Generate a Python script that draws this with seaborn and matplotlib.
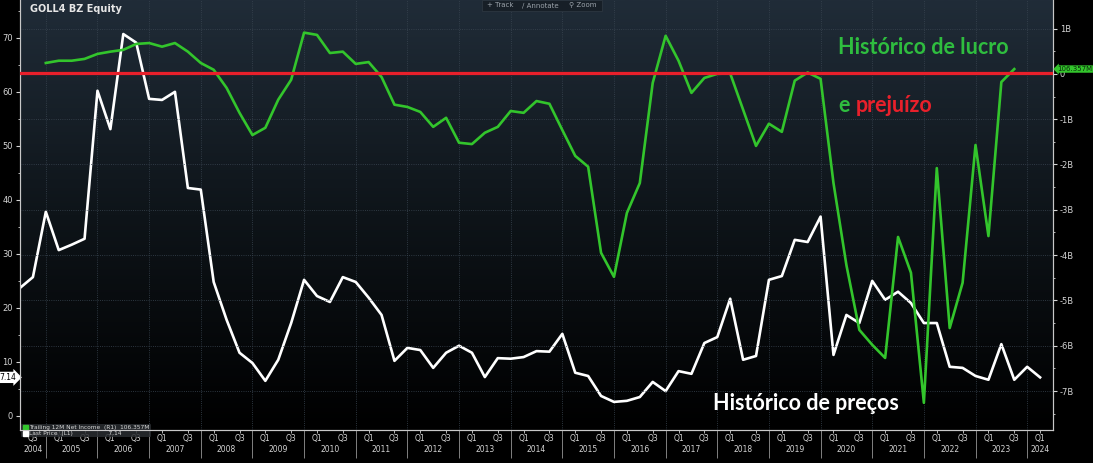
import numpy as np
import pandas as pd
import matplotlib
matplotlib.use("Agg")
import matplotlib.pyplot as plt
import seaborn as sns
from matplotlib.lines import Line2D
from matplotlib.colors import LinearSegmentedColormap

# GOLL4 last price (BRL), quarterly from 2004 Q3
price = [23.7, 25.7, 37.8, 30.7, 31.7, 32.8, 60.2, 53.1, 70.7, 69.1,
         58.7, 58.5, 60.0, 42.2, 41.9, 24.8, 17.8, 11.7, 9.8, 6.5,
         10.4, 17.2, 25.2, 22.2, 21.1, 25.7, 24.8, 21.9, 18.7, 10.2,
         12.6, 12.2, 8.9, 11.7, 13.0, 11.7, 7.2, 10.7, 10.6, 10.9,
         12.0, 11.9, 15.2, 8.0, 7.4, 3.7, 2.6, 2.8, 3.5, 6.3,
         4.6, 8.3, 7.8, 13.5, 14.6, 21.7, 10.4, 11.1, 25.2, 25.9,
         32.6, 32.2, 36.9, 11.3, 18.7, 17.2, 25.0, 21.5, 23.0, 20.9,
         17.2, 17.2, 9.1, 8.9, 7.4, 6.7, 13.3, 6.7, 9.1, 7.14]
price_start = "2004Q3"

# trailing 12M net income (BRL bn), quarterly from 2005 Q1
net_income = [0.24, 0.29, 0.29, 0.33, 0.44, 0.49, 0.53, 0.66, 0.68, 0.60,
              0.68, 0.49, 0.24, 0.09, -0.31, -0.86, -1.35, -1.19, -0.57, -0.13,
              0.91, 0.86, 0.46, 0.49, 0.22, 0.26, -0.07, -0.68, -0.73, -0.84,
              -1.17, -0.97, -1.52, -1.55, -1.30, -1.17, -0.82, -0.86, -0.60, -0.66,
              -1.24, -1.81, -2.05, -3.95, -4.48, -3.07, -2.41, -0.20, 0.84, 0.29,
              -0.42, -0.09, 0.00, 0.01, -0.79, -1.59, -1.10, -1.28, -0.15, 0.03,
              -0.11, -2.41, -4.22, -5.65, -5.98, -6.27, -3.60, -4.39, -7.26, -2.08,
              -5.61, -4.61, -1.57, -3.58, -0.18, 0.106]
income_start = "2005Q1"

years = list(range(2005, 2025))
year_labels = ["2004"] + [str(y) for y in range(2005, 2025)]
left_ticks = [0, 10, 20, 30, 40, 50, 60, 70]
right_ticks = [1, 0, -1, -2, -3, -4, -5, -6, -7]
right_labels = ["1B", "0", "-1B", "-2B", "-3B", "-4B", "-5B", "-6B", "-7B"]

GREEN = "#33c52c"
RED = "#e8202b"
TICK = "#d4d4d4"


def decimal_year(start, n):
    q = pd.period_range(start, periods=n, freq="Q")
    return q.year + (q.quarter - 1) / 4


df_price = pd.DataFrame({"t": decimal_year(price_start, len(price)), "v": price})
df_inc = pd.DataFrame({"t": decimal_year(income_start, len(net_income)), "v": net_income})

fig = plt.figure(figsize=(10.93, 4.63), dpi=100, facecolor="black")
ax = fig.add_axes([20 / 1093, 33 / 463, 1033 / 1093, 430 / 463])

# dark gradient background
bg = LinearSegmentedColormap.from_list("bg", ["#000000", "#0e1419", "#202c38"])
ax.imshow(np.linspace(0, 1, 256).reshape(-1, 1), cmap=bg, extent=[0, 1, 0, 1],
          transform=ax.transAxes, aspect="auto", origin="lower", zorder=0)

sns.lineplot(data=df_price, x="t", y="v", ax=ax, color="white", linewidth=1.9, zorder=3)
ax.set_xlim(2004.5, 2024.5)
ax.set_ylim(-2.6, 77.0)
ax.set_xlabel("")
ax.set_ylabel("")

ax2 = ax.twinx()
sns.lineplot(data=df_inc, x="t", y="v", ax=ax2, color=GREEN, linewidth=1.9, zorder=3)
ax2.axhline(0.015, color=RED, linewidth=2.3, zorder=5)
ax2.set_ylim(-7.86, 1.63)
ax2.set_xlabel("")
ax2.set_ylabel("")

for a in (ax, ax2):
    for s in a.spines.values():
        s.set_color("#c8c8c8")
        s.set_linewidth(0.8)
    a.spines["top"].set_visible(False)

# x axis: year separators + quarter labels
q_pos = [2004.75] + [y + d for y in range(2005, 2024) for d in (0.25, 0.75)] + [2024.25]
q_lab = ["Q3"] + ["Q1", "Q3"] * 19 + ["Q1"]
ax.set_xticks(years)
ax.set_xticklabels([])
ax.set_xticks(q_pos, minor=True)
ax.set_xticklabels(q_lab, minor=True)
ax.tick_params(axis="x", which="major", length=20, width=0.7, color="#808080")
ax.tick_params(axis="x", which="minor", length=2, width=0.6, color=TICK, pad=1,
               labelsize=5.5, labelcolor=TICK)
year_pos = [2004.75] + [y + 0.5 for y in range(2005, 2024)] + [2024.25]
for x, lab in zip(year_pos, year_labels):
    ax.text(x, -0.045, lab, transform=ax.get_xaxis_transform(), ha="center", va="center",
            fontsize=5.5, color=TICK)

ax.set_yticks(left_ticks)
ax.set_yticks([5, 15, 25, 35, 45, 55, 65, 75], minor=True)
ax.tick_params(axis="y", which="major", length=3, width=0.8, color=TICK, pad=2,
               labelsize=6, labelcolor=TICK)
ax.tick_params(axis="y", which="minor", length=1.5, width=0.6, color=TICK)

ax2.set_yticks(right_ticks)
ax2.set_yticklabels(right_labels)
ax2.set_yticks([v + 0.5 for v in right_ticks[1:]] + [-7.5], minor=True)
ax2.tick_params(axis="y", which="major", length=3, width=0.8, color=TICK, pad=2,
                labelsize=6, labelcolor=TICK)
ax2.tick_params(axis="y", which="minor", length=1.5, width=0.6, color=TICK)

ax.grid(axis="x", which="major", color="#3a4652", linestyle=":", linewidth=0.6)
ax2.grid(axis="y", which="major", color="#3a4652", linestyle=":", linewidth=0.6)
ax.set_axisbelow(False)

# last value boxes
ax.text(-0.004, price[-1], f"{price[-1]:.2f}", transform=ax.get_yaxis_transform(),
        ha="right", va="center", fontsize=5.5, color="black", clip_on=False,
        bbox=dict(boxstyle="rarrow,pad=0.15", fc="white", ec="none"))
ax2.text(1.004, net_income[-1], "106.357M", transform=ax2.get_yaxis_transform(),
         ha="left", va="center", fontsize=5, color="#0b2a0b", clip_on=False, zorder=6,
         bbox=dict(boxstyle="larrow,pad=0.1", fc=GREEN, ec="none"))

# legend
handles = [Line2D([], [], marker="s", linestyle="none", color=GREEN, markersize=3.6),
           Line2D([], [], marker="s", linestyle="none", color="white", markersize=3.6)]
labels = ["Trailing 12M Net Income  (R1)  106.357M", "Last Price  (L1)                   7.14"]
leg = ax.legend(handles, labels, loc="lower left", bbox_to_anchor=(0.0, -0.02),
                fontsize=4.2, labelcolor="#d8d8d8", frameon=True, facecolor="#2a2d31",
                edgecolor="none", framealpha=0.85, handletextpad=0.3, labelspacing=0.1,
                borderpad=0.25, handlelength=0.8, borderaxespad=0.2)
leg.set_zorder(10)

# header and toolbar
fig.text(30 / 1093, 1 - 9 / 463, "GOLL4 BZ Equity", fontsize=7, fontweight="bold",
         color="#e6e6e6", ha="left", va="center")
fig.patches.append(plt.Rectangle((482 / 1093, 1 - 11 / 463), 120 / 1093, 11 / 463,
                                 transform=fig.transFigure, fc="#171f27", ec="#2c3640", lw=0.6))
fig.text(487 / 1093, 1 - 5 / 463, "+ Track", fontsize=5, color="#9aa2aa", va="center")
fig.text(522 / 1093, 1 - 5 / 463, "\u2215 Annotate", fontsize=5, color="#9aa2aa", va="center")
fig.text(569 / 1093, 1 - 5 / 463, "\u26b2 Zoom", fontsize=5, color="#9aa2aa", va="center")

# annotations
font = ["Lato", "DejaVu Sans"]
fig.text(838 / 1093, 1 - 47 / 463, "Histórico de lucro", fontsize=15.5, fontweight="bold",
         color="#2fbd3f", family=font, ha="left", va="center")
fig.text(838 / 1093, 1 - 106 / 463, "e", fontsize=15.5, fontweight="bold",
         color="#2fbd3f", family=font, ha="left", va="center")
fig.text(856 / 1093, 1 - 106 / 463, "prejuízo", fontsize=15.5, fontweight="bold",
         color=RED, family=font, ha="left", va="center")
fig.text(713 / 1093, 1 - 403 / 463, "Histórico de preços", fontsize=15.5, fontweight="bold",
         color="white", family=font, ha="left", va="center")

fig.savefig("out.png", dpi=100, facecolor="black")
